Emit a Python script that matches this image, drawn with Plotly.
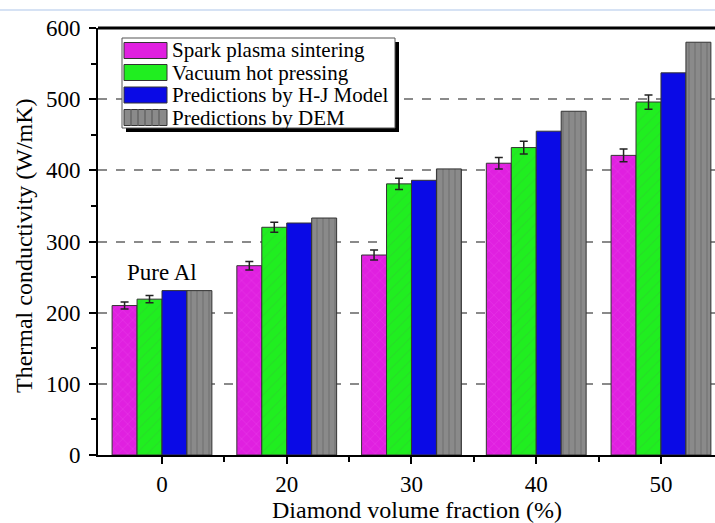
import plotly.graph_objects as go

categories = ["0", "20", "30", "40", "50"]
series_names = ["Spark plasma sintering", "Vacuum hot pressing",
                "Predictions by H-J Model", "Predictions by DEM"]
spark = [210, 266, 281, 410, 421]
spark_err = [5, 6, 7, 8, 9]
vacuum = [219, 320, 381, 432, 496]
vacuum_err = [5, 7, 8, 9, 10]
hj_model = [231, 326, 386, 455, 537]
dem = [231, 333, 402, 483, 580]
y_ticks = [0, 100, 200, 300, 400, 500, 600]

xpos = list(range(len(categories)))
FONT = "Liberation Serif"

# plot-area geometry (pixels) for placing legend/labels
W, H = 715, 523
L, R, T, B = 98, 0, 28, 68
PW, PH = W - L - R, H - T - B


def px(x):
    return (x - L) / PW


def py(y):
    return (H - B - y) / PH


colors = ["#e020e0", "#20ee20", "#0a0ae6", "#8a8a8a"]
patterns = [
    dict(shape="x", fgcolor="#ee66ee", size=7, solidity=0.12),
    dict(shape="/", fgcolor="#30c830", size=8, solidity=0.12),
    None,
    dict(shape="|", fgcolor="#6e6e6e", size=6, solidity=0.35),
]
vals = [spark, vacuum, hj_model, dem]
errs = [spark_err, vacuum_err, None, None]

fig = go.Figure()
for name, v, e, c, p in zip(series_names, vals, errs, colors, patterns):
    kw = {}
    if e is not None:
        kw["error_y"] = dict(type="data", array=e, color="#222222", thickness=1.5, width=4)
    fig.add_trace(go.Bar(
        x=xpos, y=v, name=name, showlegend=False,
        marker=dict(color=c, pattern=p, line=dict(color="#333333", width=1)),
        **kw))

fig.update_layout(
    width=W, height=H,
    margin=dict(l=L, r=R, t=T, b=B),
    paper_bgcolor="white", plot_bgcolor="white",
    barmode="group", bargap=0.2, bargroupgap=0,
    font=dict(family=FONT, size=22, color="black"),
    showlegend=False,
    xaxis=dict(range=[-0.513, 4.433], tickvals=xpos, ticktext=categories,
               tickfont=dict(family=FONT, size=23, color="black"),
               showline=True, linecolor="black", linewidth=2,
               ticks="outside", ticklen=7, tickwidth=2, tickcolor="black",
               minor=dict(tickvals=[0.5, 1.5, 2.5, 3.5], ticks="outside",
                          ticklen=5, tickwidth=2, tickcolor="black"),
               showgrid=False, zeroline=False, fixedrange=True),
    yaxis=dict(range=[0, 600], tickvals=y_ticks,
               tickfont=dict(family=FONT, size=23, color="black"),
               ticklabelstandoff=4,
               showline=True, linecolor="black", linewidth=2,
               ticks="outside", ticklen=7, tickwidth=2, tickcolor="black",
               minor=dict(dtick=50, ticks="outside", ticklen=5, tickwidth=2,
                          tickcolor="black", showgrid=False),
               showgrid=True, gridcolor="#8a8a8a", griddash="dash", gridwidth=1.5,
               zeroline=False, fixedrange=True),
)

# axis titles
fig.add_annotation(text="Diamond volume fraction (%)", xref="paper", yref="paper",
                   x=px(417), y=py(510), xanchor="center", yanchor="middle",
                   showarrow=False, font=dict(family=FONT, size=24, color="black"))
fig.add_annotation(text="Thermal conductivity (W/mK)", xref="paper", yref="paper",
                   x=px(24), y=py(246), xanchor="center", yanchor="middle",
                   textangle=-90, showarrow=False,
                   font=dict(family=FONT, size=24, color="black"))

# top spine
fig.add_shape(type="line", xref="paper", yref="paper", x0=0, x1=1, y0=1, y1=1,
              line=dict(color="black", width=3))
# thin light-blue page line at the top
fig.add_shape(type="line", xref="paper", yref="paper", x0=px(0), x1=1.0,
              y0=py(10), y1=py(10), line=dict(color="#c8d8f0", width=1.5))

fig.add_annotation(x=0, y=257, xref="x", yref="y", text="Pure Al", showarrow=False,
                   font=dict(family=FONT, size=23, color="black"))

# legend box with shadow
fig.add_shape(type="rect", xref="paper", yref="paper",
              x0=px(126), x1=px(399), y0=py(132), y1=py(42),
              fillcolor="black", line=dict(width=0))
fig.add_shape(type="rect", xref="paper", yref="paper",
              x0=px(122), x1=px(395), y0=py(128), y1=py(38),
              fillcolor="white", line=dict(color="#555555", width=1))
row_centers = [50.5, 72.5, 95, 117.5]
for name, c, yc in zip(series_names, colors, row_centers):
    fig.add_shape(type="rect", xref="paper", yref="paper",
                  x0=px(124), x1=px(167), y0=py(yc + 8), y1=py(yc - 8),
                  fillcolor=c, line=dict(color="#333333", width=1))
    fig.add_annotation(text=name, xref="paper", yref="paper",
                       x=px(170), y=py(yc), xanchor="left", yanchor="middle",
                       showarrow=False, font=dict(family=FONT, size=21, color="black"))
# stripes on the DEM swatch
for sx in [131, 138, 145, 152, 159]:
    fig.add_shape(type="line", xref="paper", yref="paper",
                  x0=px(sx), x1=px(sx), y0=py(row_centers[3] + 8), y1=py(row_centers[3] - 8),
                  line=dict(color="#6e6e6e", width=2))

fig.write_html("out.html", config={"displayModeBar": False},
               post_script="document.body.style.margin='0';document.body.style.padding='0';")
